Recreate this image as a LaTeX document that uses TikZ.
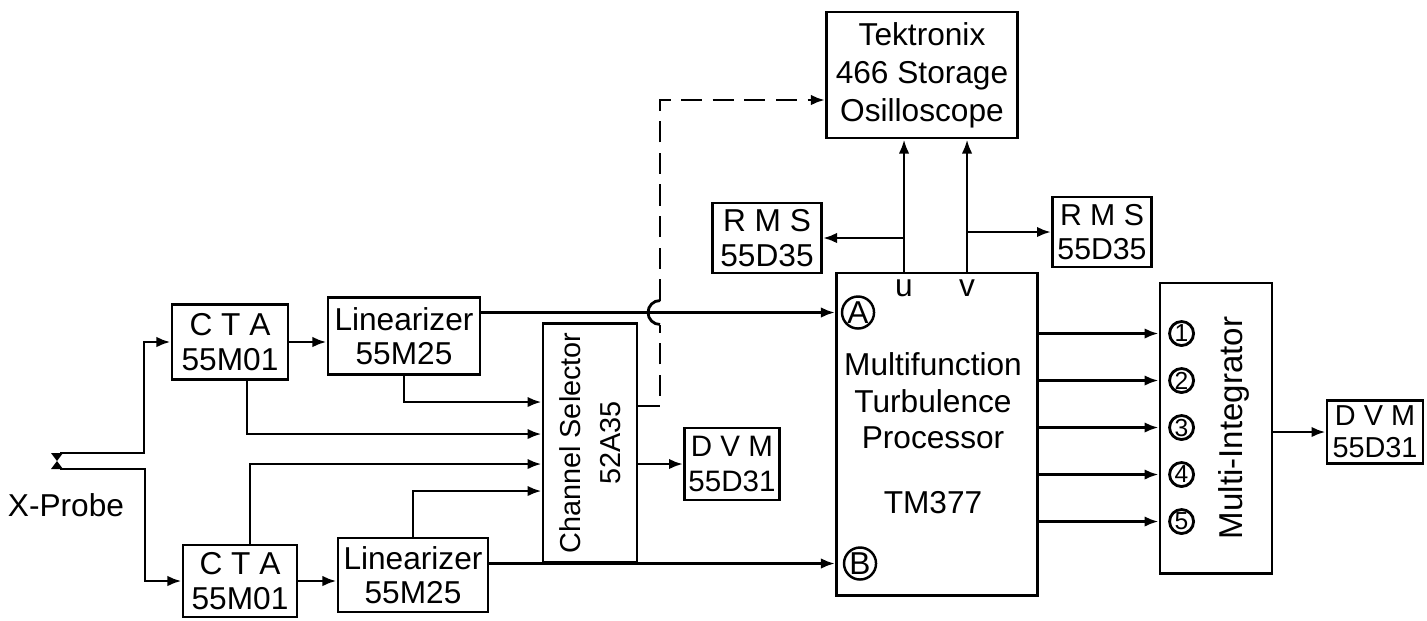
\documentclass[tikz,border=0pt]{standalone}
\usepackage{fontspec}
\setmainfont{Liberation Sans}
\usetikzlibrary{arrows.meta,calc}
\begin{document}
\begin{tikzpicture}[x=0.01cm,y=-0.01cm,
  every node/.style={font=\fontsize{9}{9.5}\selectfont},
  blk/.style={draw,line width=0.8pt,inner sep=0pt,align=center,font=\fontsize{9}{9.8}\selectfont},
  wire/.style={line width=0.8pt},
  arr/.style={wire,-{Latex[length=4pt,width=3pt]}},
  dashwire/.style={wire,dash pattern=on 6pt off 3pt},
  dasharr/.style={dashwire,-{Latex[length=4pt,width=3pt]}},
  bigc/.style={draw,circle,line width=0.7pt,inner sep=0pt,minimum size=0.32cm,font=\fontsize{9}{9}\selectfont},
  smallc/.style={draw,circle,line width=0.8pt,inner sep=0pt,minimum size=0.24cm,font=\fontsize{7}{7}\selectfont}]
\useasboundingbox (0,0) rectangle (1427,620);

% blocks
\node[blk,minimum width=1.16cm,minimum height=0.75cm] (cta1) at (230,342) {C T A\\55M01};
\node[blk,minimum width=1.14cm,minimum height=0.72cm] (cta2) at (240,581) {C T A\\55M01};
\node[blk,minimum width=1.52cm,minimum height=0.77cm] (lin1) at (404,336) {Linearizer\\55M25};
\node[blk,minimum width=1.50cm,minimum height=0.74cm] (lin2) at (413,575) {Linearizer\\55M25};
\node[blk,minimum width=0.94cm,minimum height=2.39cm] (chsel) at (590,443) {};
\node[rotate=90,align=center,font=\fontsize{8.2}{11.5}\selectfont] (chsellbl) at (chsel.center) {Channel Selector\\52A35};
\node[blk,minimum width=0.95cm,minimum height=0.72cm,font=\fontsize{8.4}{9.8}\selectfont] (dvm1) at (732,464) {D V M\\55D31};
\node[blk,minimum width=1.91cm,minimum height=1.26cm,font=\fontsize{9}{10.8}\selectfont] (osc) at (922,75) {Tektronix\\466 Storage\\Osilloscope};
\node[blk,minimum width=1.09cm,minimum height=0.70cm] (rms1) at (767,238) {R M S\\55D35};
\node[blk,minimum width=0.99cm,minimum height=0.70cm,font=\fontsize{8.6}{9.8}\selectfont] (rms2) at (1102,232) {R M S\\55D35};
\node[blk,minimum width=2.01cm,minimum height=3.22cm] (mtp) at (937,434) {};
\node[align=center,font=\fontsize{9}{10.4}\selectfont] (mtplbl) at (933,401) {Multifunction\\Turbulence\\Processor};
\node (tm) at (933,503) {TM377};
\node[blk,minimum width=1.12cm,minimum height=2.90cm] (mi) at (1216,428) {};
\node[rotate=90,font=\fontsize{9.4}{10}\selectfont] (milbl) at (1234,428) {Multi-Integrator};
\node[blk,minimum width=0.96cm,minimum height=0.63cm,font=\fontsize{8.2}{9.2}\selectfont] (dvm2) at (1375,432) {D V M\\55D31};
\node (xp) at (66,505) {X-Probe};

% probe
\fill (51,453) -- (63,453) -- (57,461) -- (63,469) -- (51,469) -- (57,461) -- cycle;
\coordinate (pu) at (60,453);
\coordinate (pl) at (60,469);
\coordinate (ju) at (144,453);
\coordinate (jl) at (145,469);
\draw[arr] (pu) -- (ju) |- (cta1.west);
\draw[arr] (pl) -- (jl) |- (cta2.west);

% CTA -> linearizer
\draw[arr] (cta1.east) -- (cta1.east -| lin1.west);
\draw[arr] (cta2.east) -- (cta2.east -| lin2.west);

% channel selector inputs
\coordinate (c1) at ($(chsel.north west)+(0,80)$);
\coordinate (c2) at ($(chsel.north west)+(0,112)$);
\coordinate (c3) at ($(chsel.north west)+(0,142)$);
\coordinate (c4) at ($(chsel.north west)+(0,169)$);
\draw[arr] (lin1.south) |- (c1);
\draw[arr] ($(cta1.south)+(17,0)$) |- (c2);
\draw[arr] ($(cta2.north)+(10,0)$) |- (c3);
\draw[arr] (lin2.north) |- (c4);
\draw[arr] (dvm1.west -| chsel.east) -- (dvm1.west);

% A and B inputs
\coordinate (Ain) at ($(mtp.north west)+(0,41)$);
\coordinate (Bin) at ($(mtp.north west)+(0,292)$);
\draw[arr] (lin1.east |- Ain) -- (Ain);
\draw[arr] (lin2.east |- Bin) -- (Bin);
\node[bigc] (A) at ($(Ain)+(23,0)$) {A};
\node[bigc] (B) at ($(Bin)+(25,0)$) {B};

% dashed line to oscilloscope with hop
\coordinate (d0) at ($(chsel.north east)+(0,84)$);
\coordinate (hop) at (d0 -| 660,0);
\coordinate (hopc) at (hop |- Ain);
\coordinate (oin) at ($(osc.west)+(0,25)$);
\draw[dashwire] (d0) -- (hop) -- ($(hopc)+(0,12)$);
\draw[wire] ($(hopc)+(0,12)$) arc[start angle=90,end angle=270,radius=12];
\draw[dasharr] ($(hopc)+(0,-12)$) |- (oin);

% u, v outputs
\coordinate (u) at ($(mtp.north west)+(69,0)$);
\coordinate (v) at ($(mtp.north west)+(132,0)$);
\node (ul) at ($(u)+(0,17)$) {u};
\node (vl) at ($(v)+(0,17)$) {v};
\draw[arr] (u) -- (u |- osc.south);
\draw[arr] (v) -- (v |- osc.south);
\draw[arr] (u |- rms1.east) -- (rms1.east);
\draw[arr] (v |- rms2.west) -- (rms2.west);

% outputs to multi-integrator
\foreach \k/\d in {1/52,2/99,3/146,4/193,5/240}{
  \coordinate (o\k) at ($(mi.north west)+(0,\d)$);
  \draw[arr] (mtp.east |- o\k) -- (o\k);
  \node[smallc] (n\k) at ($(o\k)+(23,0)$) {\k};
}

\draw[arr] (mi.east |- dvm2.west) -- (dvm2.west);
\end{tikzpicture}
\end{document}
